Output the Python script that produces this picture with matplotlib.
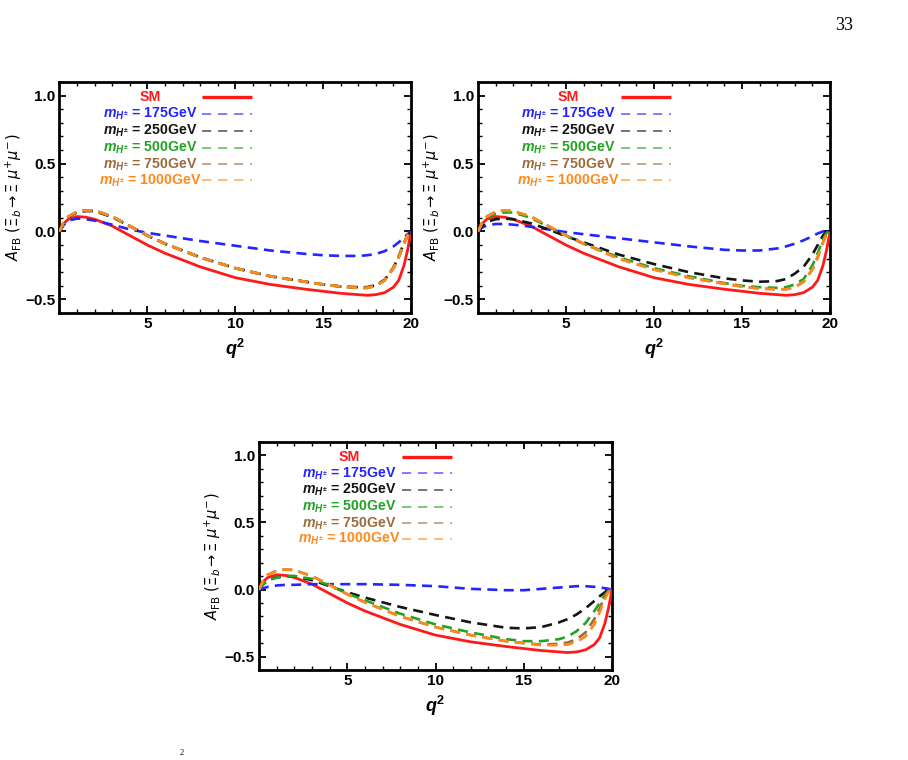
import matplotlib
matplotlib.use('Agg')
import matplotlib.pyplot as plt
from matplotlib.ticker import MultipleLocator, FixedLocator

plt.rcParams['font.family'] = ['Liberation Sans', 'DejaVu Sans']
plt.rcParams['mathtext.fontset'] = 'custom'
plt.rcParams['mathtext.rm'] = 'Liberation Sans:bold'
plt.rcParams['mathtext.it'] = 'Liberation Sans:italic:bold'
plt.rcParams['mathtext.bf'] = 'Liberation Sans:bold'

# q^2 points
q = [0, 0.25, 0.5, 1, 1.5, 2, 3, 4, 5, 6, 8, 10, 12, 14, 15, 16, 17, 17.5, 18, 18.5, 19, 19.3, 19.6, 19.8, 20]

# SM (same in all panels)
afbSM = [0.0, 0.06, 0.09, 0.11, 0.105, 0.09, 0.04, -0.03, -0.1, -0.16, -0.26, -0.34, -0.39, -0.425, -0.44, -0.455, -0.465, -0.47, -0.465, -0.45, -0.41, -0.36, -0.25, -0.14, 0.0]

# panel 1
afb175_1 = [0.0, 0.05, 0.08, 0.095, 0.09, 0.08, 0.05, 0.015, -0.01, -0.03, -0.07, -0.105, -0.14, -0.165, -0.175, -0.18, -0.18, -0.175, -0.165, -0.145, -0.11, -0.08, -0.045, -0.02, 0.0]
afb250_1 = [0.0, 0.065, 0.105, 0.14, 0.15, 0.15, 0.105, 0.04, -0.03, -0.09, -0.19, -0.27, -0.33, -0.37, -0.39, -0.405, -0.41, -0.41, -0.395, -0.355, -0.265, -0.185, -0.085, -0.03, 0.0]
afb500_1 = [0.0, 0.07, 0.11, 0.145, 0.155, 0.155, 0.11, 0.04, -0.03, -0.09, -0.19, -0.27, -0.33, -0.37, -0.39, -0.405, -0.415, -0.415, -0.40, -0.36, -0.27, -0.19, -0.09, -0.03, 0.0]
afb750_1 = [0.0, 0.07, 0.11, 0.145, 0.155, 0.155, 0.11, 0.04, -0.03, -0.09, -0.19, -0.27, -0.33, -0.37, -0.39, -0.405, -0.415, -0.415, -0.40, -0.36, -0.27, -0.19, -0.09, -0.03, 0.0]
afb1000_1 = [0.0, 0.07, 0.11, 0.145, 0.155, 0.155, 0.11, 0.04, -0.03, -0.09, -0.19, -0.27, -0.33, -0.37, -0.39, -0.405, -0.415, -0.415, -0.40, -0.36, -0.27, -0.19, -0.09, -0.03, 0.0]

# panel 2
afb175_2 = [0.0, 0.03, 0.045, 0.055, 0.055, 0.05, 0.035, 0.015, -0.005, -0.02, -0.05, -0.08, -0.11, -0.135, -0.14, -0.14, -0.125, -0.11, -0.09, -0.065, -0.035, -0.015, 0.0, 0.005, 0.0]
afb250_2 = [0.0, 0.04, 0.07, 0.09, 0.095, 0.09, 0.06, 0.015, -0.035, -0.08, -0.17, -0.24, -0.30, -0.345, -0.36, -0.37, -0.365, -0.35, -0.31, -0.26, -0.17, -0.1, -0.03, 0.0, 0.0]
afb500_2 = [0.0, 0.06, 0.10, 0.13, 0.14, 0.14, 0.1, 0.035, -0.03, -0.09, -0.19, -0.27, -0.33, -0.38, -0.40, -0.41, -0.415, -0.41, -0.39, -0.35, -0.25, -0.16, -0.06, -0.01, 0.0]
afb750_2 = [0.0, 0.07, 0.11, 0.145, 0.155, 0.15, 0.11, 0.04, -0.03, -0.09, -0.2, -0.28, -0.34, -0.385, -0.405, -0.42, -0.425, -0.425, -0.41, -0.37, -0.28, -0.19, -0.08, -0.02, 0.0]
afb1000_2 = [0.0, 0.07, 0.11, 0.145, 0.155, 0.15, 0.11, 0.04, -0.03, -0.09, -0.2, -0.28, -0.34, -0.385, -0.405, -0.42, -0.425, -0.425, -0.41, -0.37, -0.28, -0.19, -0.08, -0.02, 0.0]

# panel 3
afb175_3 = [0.0, 0.01, 0.02, 0.03, 0.035, 0.035, 0.04, 0.04, 0.04, 0.04, 0.035, 0.025, 0.005, -0.005, -0.005, 0.005, 0.015, 0.02, 0.025, 0.025, 0.02, 0.015, 0.01, 0.005, 0.0]
afb250_3 = [0.0, 0.04, 0.07, 0.09, 0.1, 0.1, 0.07, 0.025, -0.02, -0.06, -0.13, -0.19, -0.245, -0.285, -0.29, -0.28, -0.245, -0.22, -0.185, -0.14, -0.085, -0.05, -0.02, -0.005, 0.0]
afb500_3 = [0.0, 0.04, 0.07, 0.09, 0.1, 0.1, 0.08, 0.03, -0.03, -0.08, -0.18, -0.26, -0.32, -0.37, -0.385, -0.385, -0.37, -0.35, -0.31, -0.25, -0.16, -0.1, -0.04, -0.01, 0.0]
afb750_3 = [0.0, 0.07, 0.11, 0.14, 0.15, 0.145, 0.1, 0.035, -0.035, -0.095, -0.2, -0.28, -0.34, -0.385, -0.40, -0.41, -0.405, -0.395, -0.37, -0.32, -0.22, -0.14, -0.05, -0.01, 0.0]
afb1000_3 = [0.0, 0.07, 0.11, 0.14, 0.15, 0.145, 0.1, 0.035, -0.035, -0.095, -0.2, -0.28, -0.34, -0.385, -0.40, -0.415, -0.415, -0.41, -0.39, -0.35, -0.26, -0.17, -0.07, -0.02, 0.0]

masses = ['175', '250', '500', '750', '1000']
colorSM = '#ff1a1a'
colorList = ['#2424ff', '#151515', '#22a322', '#9c6b3d', '#ff8a1c']

panels = [
    [afb175_1, afb250_1, afb500_1, afb750_1, afb1000_1],
    [afb175_2, afb250_2, afb500_2, afb750_2, afb1000_2],
    [afb175_3, afb250_3, afb500_3, afb750_3, afb1000_3],
]

W, H = 908, 760
# axes boxes in pixels: left, top, right, bottom
boxes = [(59.5, 82, 411, 313), (478, 82, 830, 313), (259, 442, 612, 670)]

fig = plt.figure(figsize=(W / 100, H / 100), dpi=100)

rowY = [0.933, 0.862, 0.789, 0.715, 0.643, 0.574]
for box, curves in zip(boxes, panels):
    l, t, r, b = box
    ax = fig.add_axes([l / W, (H - b) / H, (r - l) / W, (b - t) / H])
    ax.plot(q, afbSM, color=colorSM, lw=2.0, solid_capstyle='butt', zorder=3)
    index = 0
    for afb, c in zip(curves, colorList):
        ax.plot(q, afb, color=c, lw=1.9, dashes=(3.8, 2.4), dash_capstyle='butt',
                zorder=4 + index)
        index += 1
    ax.set_xlim(0, 20)
    ax.set_ylim(-0.6, 1.1)
    ax.xaxis.set_major_locator(FixedLocator([5, 10, 15, 20]))
    ax.xaxis.set_minor_locator(MultipleLocator(1))
    ax.yaxis.set_major_locator(FixedLocator([-0.5, 0.0, 0.5, 1.0]))
    ax.yaxis.set_minor_locator(MultipleLocator(0.1))
    ax.set_yticklabels(['\u22120.5', '0.0', '0.5', '1.0'])
    ax.tick_params(which='both', direction='in', top=True, right=True, color='black')
    ax.tick_params(which='major', length=5, width=1.3, labelsize=11, pad=3)
    ax.tick_params(which='minor', length=3, width=1.0)
    for lab in ax.get_xticklabels() + ax.get_yticklabels():
        lab.set_fontweight('bold')
    for sp in ax.spines.values():
        sp.set_linewidth(2.0)
    ax.set_xlabel(r'$q^2$', fontsize=13, labelpad=4)
    ax.set_ylabel(r'$A_{\mathrm{FB}}\ (\Xi_b \rightarrow \Xi\ \mu^{+}\mu^{-})$',
                  fontsize=10.5, labelpad=1, math_fontfamily='dejavusans')

    # legend drawn by hand (centered text, sample lines on the right)
    ax.text(0.257, rowY[0], 'SM', transform=ax.transAxes, ha='center', va='center',
            color=colorSM, fontsize=10.2, fontweight='bold')
    ax.plot([0.405, 0.548], [rowY[0], rowY[0]], transform=ax.transAxes,
            color=colorSM, lw=2.4, solid_capstyle='butt')
    for i in range(5):
        y = rowY[i + 1]
        ax.text(0.257, y, r'$m_{H^{\pm}}$ = ' + masses[i] + 'GeV', transform=ax.transAxes,
                ha='center', va='center', color=colorList[i], fontsize=10.2, fontweight='bold')
        ax.plot([0.405, 0.548], [y, y], transform=ax.transAxes, color=colorList[i],
                lw=1.1, alpha=0.75, dashes=(6, 4.5))

fig.text(835 / W, 1 - 25 / H, '33', family='Liberation Serif', fontsize=13,
         ha='left', va='center')
fig.text(180 / W, 1 - 753 / H, '2', family='Liberation Serif', fontsize=6,
         ha='left', va='center')

fig.savefig('out.png', dpi=100)
